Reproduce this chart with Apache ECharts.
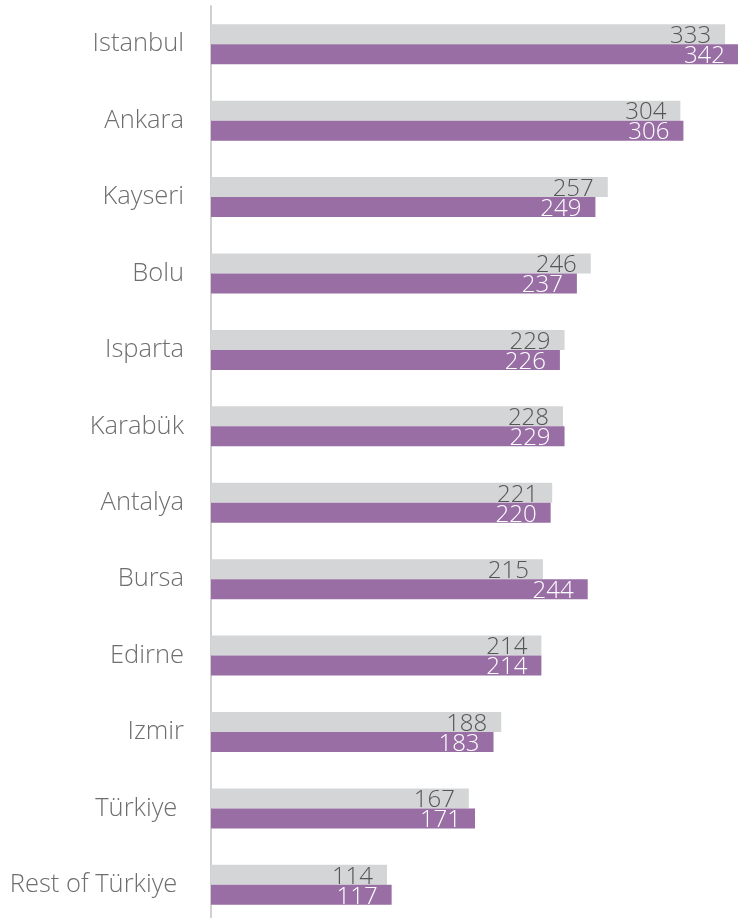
<!DOCTYPE html>
<html>
<head>
<meta charset="utf-8">
<script src="https://cdn.jsdelivr.net/npm/echarts@6/dist/echarts.min.js"></script>
<style>
html,body{margin:0;padding:0;background:#fff;}
#chart{width:738px;height:918px;}
</style>
</head>
<body>
<div id="chart"></div>
<script>
const categories = ['Istanbul','Ankara','Kayseri','Bolu','Isparta','Karabük','Antalya','Bursa','Edirne','Izmir','Türkiye ','Rest of Türkiye '];
const seriesGray = [333,304,257,246,229,228,221,215,214,188,167,114];
const seriesPurple = [342,306,249,237,226,229,220,244,214,183,171,117];
const xMax = 342;

const chart = echarts.init(document.getElementById('chart'));
const fontFamily = '"Open Sans"';
chart.setOption({
  animation: false,
  grid: { left: 211, top: 6, width: 528, bottom: -5, containLabel: false, outerBoundsMode: 'none' },
  xAxis: {
    type: 'value', min: 0, max: xMax,
    show: false, splitLine: { show: false }
  },
  yAxis: {
    type: 'category', data: categories, inverse: true,
    axisLine: { show: true, lineStyle: { color: '#d0d0d0', width: 2 } },
    axisTick: { show: false },
    axisLabel: { color: '#6e6e6e', fontSize: 25.5, fontWeight: 300, fontFamily: fontFamily, margin: 27 }
  },
  series: [
    {
      name: 'Series 1', type: 'bar', data: seriesGray,
      barWidth: 20, barGap: '0%',
      itemStyle: { color: '#d4d5d7' },
      label: { show: true, position: 'insideRight', distance: 14, offset: [0, 2], color: '#555', fontSize: 24, fontWeight: 300, fontFamily: fontFamily }
    },
    {
      name: 'Series 2', type: 'bar', data: seriesPurple,
      barWidth: 20, barGap: '0%',
      itemStyle: { color: '#986ea5' },
      label: { show: true, position: 'insideRight', distance: 14, offset: [0, 2], color: '#fff', fontSize: 24, fontWeight: 300, fontFamily: fontFamily }
    }
  ]
});
</script>
</body>
</html>
